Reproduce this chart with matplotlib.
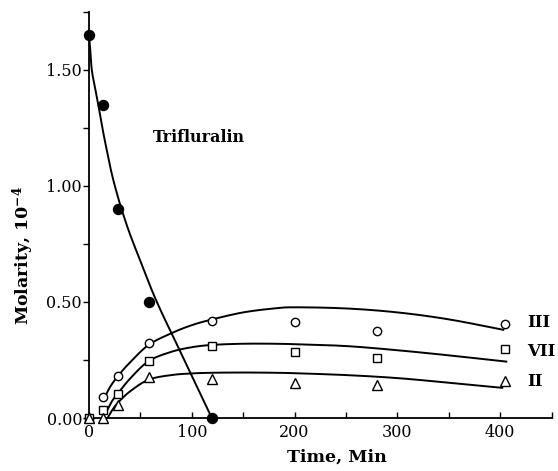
import numpy as np
import matplotlib
matplotlib.use("Agg")
import matplotlib.pyplot as plt

# ---- data ----
time_obs = [0, 14, 28, 58, 120, 200, 280, 405]
trif_time = [0, 14, 28, 58, 120]
trif_obs = [1.65, 1.35, 0.90, 0.50, 0.0]
iii_obs = [0.0, 0.092, 0.182, 0.325, 0.419, 0.412, 0.375, 0.405]
vii_obs = [0.0, 0.034, 0.102, 0.246, 0.312, 0.286, 0.257, 0.296]
ii_obs = [0.0, 0.0, 0.056, 0.178, 0.167, 0.149, 0.142, 0.161]

# fitted curves (knots)
trif_fit_t = [0, 1, 2.7, 6, 9, 13, 17, 22, 27, 32, 40, 51, 66, 90, 119.5]
trif_fit_y = [1.65, 1.60, 1.50, 1.42, 1.35, 1.25, 1.16, 1.055, 0.97, 0.895, 0.79, 0.665, 0.50, 0.275, 0.0]
iii_fit_t = [14, 20, 28, 40, 58, 80, 100, 120, 150, 180, 200, 250, 300, 350, 403]
iii_fit_y = [0.075, 0.13, 0.18, 0.24, 0.315, 0.365, 0.40, 0.425, 0.455, 0.472, 0.477, 0.472, 0.455, 0.425, 0.38]
vii_fit_t = [16, 22, 28, 40, 58, 80, 100, 120, 150, 180, 200, 250, 300, 350, 406]
vii_fit_y = [0.02, 0.07, 0.105, 0.17, 0.245, 0.285, 0.305, 0.315, 0.32, 0.32, 0.318, 0.31, 0.292, 0.27, 0.243]
ii_fit_t = [18, 22, 28, 40, 58, 80, 100, 120, 150, 180, 200, 250, 300, 350, 402]
ii_fit_y = [0.0, 0.03, 0.065, 0.115, 0.165, 0.185, 0.192, 0.195, 0.196, 0.195, 0.193, 0.185, 0.172, 0.152, 0.13]

series_labels = ["III", "VII", "II"]
xticks = [0, 100, 200, 300, 400]
yticks = [0.0, 0.5, 1.0, 1.5]
ytick_labels = ["0.00", "0.50", "1.00", "1.50"]


def smooth(xk, yk, n=20):
    """Simple Catmull-Rom interpolation through the knots."""
    x = np.asarray(xk, float)
    y = np.asarray(yk, float)
    px = np.concatenate([[2 * x[0] - x[1]], x, [2 * x[-1] - x[-2]]])
    py = np.concatenate([[2 * y[0] - y[1]], y, [2 * y[-1] - y[-2]]])
    outx, outy = [], []
    t = np.linspace(0, 1, n, endpoint=False)
    for i in range(1, len(px) - 2):
        for arr, out in ((px, outx), (py, outy)):
            p0, p1, p2, p3 = arr[i - 1], arr[i], arr[i + 1], arr[i + 2]
            out.extend(0.5 * ((2 * p1) + (-p0 + p2) * t + (2 * p0 - 5 * p1 + 4 * p2 - p3) * t ** 2
                              + (-p0 + 3 * p1 - 3 * p2 + p3) * t ** 3))
    outx.append(x[-1])
    outy.append(y[-1])
    return np.array(outx), np.array(outy)


plt.rcParams['font.family'] = ['DejaVu Serif']
plt.rcParams['mathtext.fontset'] = 'dejavuserif'
fig = plt.figure(figsize=(5.58, 4.71), dpi=100)
ax = fig.add_axes([0.1595, 0.1125, 0.829, 0.8625])

lw = 1.4
for xs, ys in ((trif_fit_t, trif_fit_y), (iii_fit_t, iii_fit_y),
               (vii_fit_t, vii_fit_y), (ii_fit_t, ii_fit_y)):
    sx, sy = smooth(xs, ys)
    ax.plot(sx, sy, color='black', lw=lw, clip_on=False)

ax.plot(trif_time, trif_obs, 'o', ms=7.2, mfc='black', mec='black', clip_on=False, zorder=5)
ax.plot(time_obs, iii_obs, 'o', ms=6, mfc='white', mec='black', mew=1.0, clip_on=False, zorder=4)
ax.plot(time_obs, vii_obs, 's', ms=5.5, mfc='white', mec='black', mew=1.0, clip_on=False, zorder=4)
ax.plot(time_obs, ii_obs, '^', ms=6.5, mfc='white', mec='black', mew=1.0, clip_on=False, zorder=4)

ax.set_xlim(0, 450)
ax.set_ylim(0, 1.75)
for s in ('top', 'right'):
    ax.spines[s].set_visible(False)
ax.spines['left'].set_linewidth(1.3)
ax.spines['bottom'].set_linewidth(1.3)

ax.set_xticks(xticks)
ax.set_xticks(np.arange(0, 451, 50), minor=True)
ax.set_yticks(yticks)
ax.set_yticklabels(ytick_labels)
ax.set_yticks(np.arange(0, 1.76, 0.25), minor=True)
ax.tick_params(axis='x', which='both', direction='in', length=4, width=1, labelsize=11.5, pad=4)
ax.tick_params(axis='y', which='both', direction='out', length=4, width=1, labelsize=11.5, pad=1)

ax.set_xlabel("Time, Min", fontsize=12.5, fontweight='bold')
ax.xaxis.set_label_coords(0.535, -0.075)
ax.set_ylabel(r"Molarity, 10$^{\mathbf{-4}}$", fontsize=12.5, fontweight='bold')
ax.yaxis.set_label_coords(-0.115, 0.4)

ax.text(62, 1.21, "Trifluralin", fontsize=11.5, fontweight='bold', va='center', ha='left')
label_y = [0.41, 0.286, 0.156]
for lab, yy in zip(series_labels, label_y):
    ax.text(426, yy, lab, fontsize=12, fontweight='bold', va='center', ha='left')

fig.savefig("out.png", dpi=100)
